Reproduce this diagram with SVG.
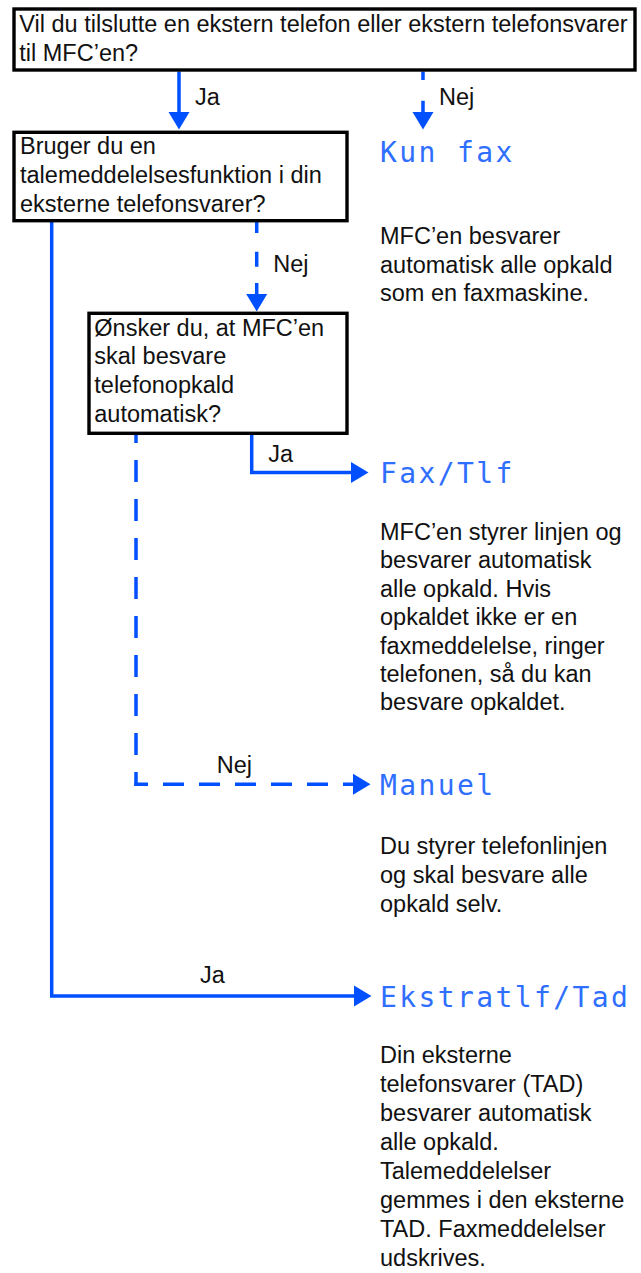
<svg xmlns="http://www.w3.org/2000/svg" width="641" height="1273" viewBox="0 0 641 1273">
<style>
  .box { fill: #ffffff; stroke: #000000; stroke-width: 3.4; }
  .t { font-family: "Liberation Sans", Arial, Helvetica, sans-serif; font-size: 23.5px; fill: #111111; }
  .lcd { font-family: "DejaVu Sans Mono", "Liberation Mono", monospace; font-size: 28px; letter-spacing: 2.4px; fill: #2f6fff; }
  .c { fill: none; stroke: #0050ff; stroke-width: 3.5; stroke-linejoin: miter; }
  .arr { marker-end: url(#ah); }
</style>
<defs>
  <marker id="ah" markerUnits="userSpaceOnUse" markerWidth="18" markerHeight="22" refX="0" refY="10.5" orient="auto" overflow="visible">
    <path d="M0,0 L17.5,10.5 L0,21 Z" fill="#0050ff"/>
  </marker>
</defs>
<rect width="641" height="1273" fill="#ffffff"/>

<g id="connectors">
  <path class="c arr" d="M179,71.5 V112"/>
  <path class="c arr" d="M423,71.5 V80 M423,100.7 V112"/>
  <path class="c arr" d="M256.7,222 V233 M256.7,251.7 V266.7 M256.7,283 V294"/>
  <path class="c arr" d="M51.7,222 V996 H354"/>
  <path class="c arr" d="M251.7,435 V472.5 H351"/>
  <path class="c" d="M136,435 V786" stroke-dasharray="22 17" stroke-dashoffset="14"/>
  <path class="c arr" d="M134.3,784.3 H353" stroke-dasharray="21 15" stroke-dashoffset="7.3"/>
  <text class="t" x="195" y="105">Ja</text>
  <text class="t" x="439" y="105">Nej</text>
  <text class="t" x="273.3" y="271.7">Nej</text>
  <text class="t" x="268.3" y="461.7">Ja</text>
  <text class="t" x="216.7" y="772.7">Nej</text>
  <text class="t" x="200" y="982.7">Ja</text>
</g>

<g id="q1">
  <rect class="box" x="14" y="9" width="621" height="61"/>
  <text class="t" x="19.3" y="32.3">Vil du tilslutte en ekstern telefon eller ekstern telefonsvarer</text>
  <text class="t" x="19.3" y="61">til MFC’en?</text>
</g>

<g id="q2">
  <rect class="box" x="14" y="132.3" width="333" height="88.4"/>
  <text class="t" x="20" y="154">Bruger du en</text>
  <text class="t" x="20" y="183">talemeddelelsesfunktion i din</text>
  <text class="t" x="20" y="211.7">eksterne telefonsvarer?</text>
</g>

<g id="q3">
  <rect class="box" x="89" y="313.3" width="258" height="120"/>
  <text class="t" x="94.3" y="336">Ønsker du, at MFC’en</text>
  <text class="t" x="94.3" y="364.3">skal besvare</text>
  <text class="t" x="94.3" y="393">telefonopkald</text>
  <text class="t" x="94.3" y="421.7">automatisk?</text>
</g>

<g id="kunfax">
  <text class="lcd" x="380" y="161.7">Kun fax</text>
  <text class="t" x="380" y="244">MFC’en besvarer</text>
  <text class="t" x="380" y="272.7">automatisk alle opkald</text>
  <text class="t" x="380" y="301.4">som en faxmaskine.</text>
</g>

<g id="faxtlf">
  <text class="lcd" x="380" y="482.7">Fax/Tlf</text>
  <text class="t" x="380" y="540">MFC’en styrer linjen og</text>
  <text class="t" x="380" y="568.4">besvarer automatisk</text>
  <text class="t" x="380" y="596.8">alle opkald. Hvis</text>
  <text class="t" x="380" y="625.2">opkaldet ikke er en</text>
  <text class="t" x="380" y="653.6">faxmeddelelse, ringer</text>
  <text class="t" x="380" y="682">telefonen, så du kan</text>
  <text class="t" x="380" y="710.4">besvare opkaldet.</text>
</g>

<g id="manuel">
  <text class="lcd" x="380" y="795">Manuel</text>
  <text class="t" x="380" y="854">Du styrer telefonlinjen</text>
  <text class="t" x="380" y="883">og skal besvare alle</text>
  <text class="t" x="380" y="911.7">opkald selv.</text>
</g>

<g id="ekstratlf">
  <text class="lcd" x="380" y="1006.5">Ekstratlf/Tad</text>
  <text class="t" x="380" y="1063.3">Din eksterne</text>
  <text class="t" x="380" y="1092.3">telefonsvarer (TAD)</text>
  <text class="t" x="380" y="1121.3">besvarer automatisk</text>
  <text class="t" x="380" y="1150.3">alle opkald.</text>
  <text class="t" x="380" y="1179.3">Talemeddelelser</text>
  <text class="t" x="380" y="1208.3">gemmes i den eksterne</text>
  <text class="t" x="380" y="1237.3">TAD. Faxmeddelelser</text>
  <text class="t" x="380" y="1266.3">udskrives.</text>
</g>
</svg>
